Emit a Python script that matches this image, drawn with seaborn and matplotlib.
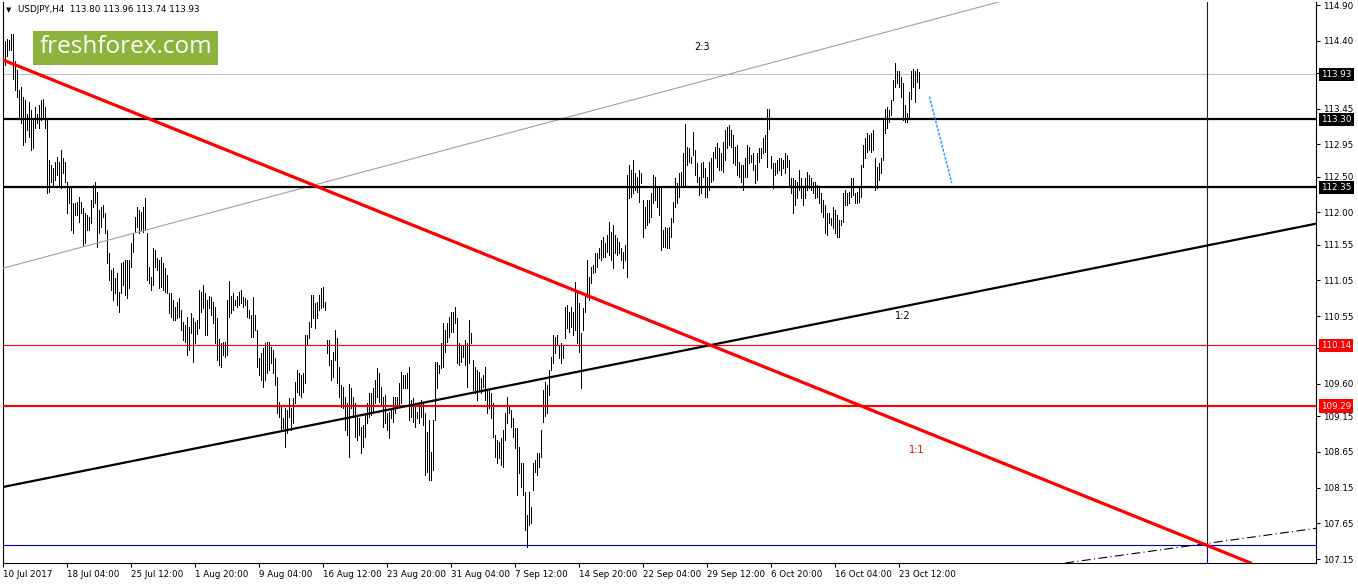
import matplotlib
matplotlib.use('agg')
import matplotlib.pyplot as plt
import matplotlib.transforms as mtransforms
from matplotlib.patches import Rectangle
import pandas as pd
import seaborn as sns

# H4 bars (high / low) left to right
highs = [
    114.27, 114.39, 114.43, 114.41, 114.50, 114.50, 114.11, 113.99, 113.71, 113.76,
    113.62, 113.57, 113.38, 113.55, 113.43, 113.32, 113.48, 113.38, 113.50, 113.57,
    113.59, 113.48, 113.32, 112.73, 112.66, 112.62, 112.71, 112.78, 112.71, 112.87,
    112.76, 112.71, 112.43, 112.34, 112.36, 112.13, 112.13, 112.15, 112.22, 112.15,
    112.06, 111.99, 111.96, 111.94, 112.17, 112.38, 112.43, 112.29, 112.03, 112.08,
    112.10, 111.99, 111.75, 111.43, 111.19, 111.22, 111.08, 111.15, 110.89, 111.29,
    111.31, 111.33, 111.33, 111.33, 111.57, 111.71, 111.94, 112.08, 112.03, 112.01,
    112.08, 112.20, 111.71, 111.24, 111.10, 111.50, 111.47, 111.36, 111.33, 111.38,
    111.29, 111.22, 111.12, 110.87, 110.87, 110.77, 110.68, 110.75, 110.80,
    110.64, 110.47, 110.42, 110.54, 110.40, 110.59, 110.52, 110.47, 110.49, 110.92,
    110.89, 110.98, 110.87, 110.77, 110.83, 110.82, 110.75, 110.68, 110.52, 110.23,
    110.17, 110.19, 110.19, 110.78, 111.04, 110.83, 110.87, 110.77, 110.83, 110.88,
    110.92, 110.81, 110.80, 110.77, 110.64, 110.56, 110.82, 110.56, 110.35, 109.96,
    110.03, 110.10, 110.17, 110.18, 110.18, 110.12, 110.08, 109.96, 109.70, 109.35,
    109.28, 109.12, 109.26, 109.24, 109.40, 109.26, 109.40, 109.63, 109.80, 109.75,
    109.73, 109.75, 110.29, 110.29, 110.47, 110.85, 110.85, 110.73, 110.75, 110.84,
    110.94, 110.96, 110.75, 110.22, 110.22, 109.94, 110.05, 110.36, 110.24, 109.84,
    109.59, 109.56, 109.42, 109.33, 109.60, 109.54, 109.42, 109.33, 109.14, 109.12,
    109.00, 109.03, 109.19, 109.33, 109.47, 109.47, 109.54, 109.66, 109.82, 109.75,
    109.56, 109.42, 109.45, 109.19, 109.21, 109.26, 109.42, 109.42, 109.42, 109.61,
    109.77, 109.73, 109.73, 109.75, 109.84, 109.38, 109.40, 109.33, 109.21, 109.35,
    109.38, 109.33, 109.19, 108.93, 109.10, 108.65, 109.10, 109.91, 109.91, 109.87,
    110.17, 110.45, 110.35, 110.45, 110.54, 110.61, 110.61, 110.68, 110.52, 110.17,
    110.14, 110.14, 110.21, 110.17, 110.49, 110.31, 109.94, 109.84, 109.80, 109.77,
    109.68, 109.73, 109.84, 109.52, 109.52, 109.47, 109.33, 108.89, 108.82, 108.79,
    108.84, 108.96, 109.19, 109.42, 109.28, 109.24, 109.12, 108.98, 108.98, 108.72,
    108.49, 108.49, 108.09, 107.77, 108.09, 107.88, 108.49, 108.54, 108.63, 108.63, 108.96,
    109.51, 109.63, 109.59, 109.80, 109.98, 110.29, 110.26, 110.29, 110.14, 110.17,
    110.14, 110.68, 110.70, 110.61, 110.68, 110.61, 111.03, 110.87, 110.73, 110.31,
    110.66, 110.84, 111.33, 111.10, 111.24, 111.26, 111.43, 111.43, 111.50, 111.61,
    111.66, 111.57, 111.68, 111.87, 111.73, 111.82, 111.68, 111.64, 111.59, 111.50,
    111.45, 111.54, 112.52, 112.66, 112.59, 112.73, 112.55, 112.50, 112.59, 112.55,
    112.17, 112.08, 112.17, 112.17, 112.27, 112.52, 112.50, 112.36, 112.34, 112.36,
    111.75, 111.80, 111.78, 111.80, 111.92, 112.15, 112.48, 112.41, 112.55, 112.57,
    112.83, 113.24, 112.92, 112.90, 112.78, 113.13, 112.87, 112.69, 112.50, 112.69,
    112.71, 112.62, 112.50, 112.71, 112.76, 112.85, 112.92, 112.97, 112.90, 112.83,
    112.99, 113.15, 113.20, 113.22,
    113.15, 113.08, 112.92, 112.94, 112.71, 112.66, 112.66, 112.76, 112.94, 112.92,
    112.80, 112.83, 112.66, 112.83, 112.90, 112.90, 113.04, 113.08, 113.44, 113.44,
    112.79, 112.69, 112.69, 112.73, 112.76, 112.76, 112.73, 112.83, 112.80, 112.73,
    112.48, 112.48, 112.45, 112.43, 112.59, 112.48, 112.36, 112.48, 112.57, 112.52,
    112.48, 112.43, 112.43, 112.38, 112.36, 112.27, 112.17, 112.10, 111.99, 111.99,
    111.92, 112.08, 112.03, 111.96, 111.89, 111.89, 112.27, 112.31, 112.27, 112.29,
    112.48, 112.48, 112.27, 112.29, 112.34, 112.66, 112.94, 113.04, 113.11, 113.08,
    113.11, 113.15, 112.76, 112.64, 112.69, 112.76, 113.29, 113.45, 113.48, 113.43,
    113.57, 113.85, 114.09, 113.97, 113.97, 113.90, 113.81, 113.50, 113.39, 113.69,
    113.97, 114.01, 113.97, 114.01, 113.96,
]
lows = [
    113.99, 114.06, 114.18, 114.27, 114.27, 113.87, 113.71, 113.62, 113.34, 113.25,
    112.94, 112.99, 113.15, 113.06, 112.87, 112.90, 113.18, 113.25, 113.18, 113.29,
    113.34, 113.18, 112.27, 112.29, 112.43, 112.36, 112.45, 112.52, 112.38, 112.34,
    112.55, 112.43, 111.99, 112.13, 111.75, 111.71, 111.96, 111.96, 111.87, 111.99,
    111.54, 111.57, 111.75, 111.75, 111.85, 112.08, 112.13, 111.52, 111.71, 111.80,
    111.94, 111.71, 111.29, 111.05, 110.91, 110.77, 110.87, 110.70, 110.61, 110.87,
    110.98, 110.84, 110.80, 110.94, 111.24, 111.45, 111.73, 111.80, 111.71, 111.75,
    111.73, 111.75, 111.05, 111.01, 110.91, 110.98, 111.24, 111.19, 110.94, 110.96,
    110.91, 110.89, 110.87, 110.59, 110.54, 110.49, 110.49, 110.52, 110.54,
    110.36, 110.22, 110.19, 110.01, 110.08, 110.31, 109.91, 110.17, 110.30, 110.38,
    110.61, 110.66, 110.29, 110.29, 110.66, 110.56, 110.45, 110.17, 109.94, 109.87,
    109.84, 110.01, 109.98, 110.01, 110.54, 110.59, 110.64, 110.70, 110.68, 110.70,
    110.73, 110.68, 110.70, 110.54, 110.52, 110.26, 110.26, 110.36, 109.84, 109.73,
    109.66, 109.56, 109.66, 109.75, 109.80, 109.89, 109.75, 109.59, 109.19, 109.14,
    108.96, 108.98, 108.72, 108.91, 109.14, 108.96, 109.05, 109.33, 109.49, 109.45,
    109.42, 109.49, 109.61, 110.15, 110.24, 110.40, 110.52, 110.38, 110.52, 110.64,
    110.66, 110.68, 110.64, 110.03, 109.87, 109.66, 109.70, 109.94, 109.61, 109.42,
    109.28, 109.26, 108.96, 108.89, 108.58, 109.26, 109.14, 108.86, 108.82, 108.89,
    108.63, 108.72, 108.86, 109.05, 109.14, 109.17, 109.21, 109.33, 109.42, 109.35,
    109.31, 109.00, 109.05, 108.96, 108.84, 109.12, 109.07, 109.19, 109.26, 109.31,
    109.33, 109.54, 109.54, 109.54, 109.10, 109.14, 109.07, 109.00, 109.12, 109.05,
    109.14, 109.03, 108.33, 108.37, 108.26, 108.26, 108.40, 109.10, 109.54, 109.75,
    109.82, 109.84, 110.05, 110.19, 110.26, 110.33, 110.33, 110.45, 109.89, 109.87,
    109.91, 109.98, 109.87, 109.56, 109.89, 110.17, 109.52, 109.47, 109.38, 109.52,
    109.47, 109.56, 109.38, 109.19, 109.26, 109.12, 108.86, 108.58, 108.49, 108.56,
    108.47, 108.44, 108.82, 109.05, 109.19, 109.00, 108.86, 108.70, 108.05, 108.35,
    108.16, 108.05, 107.56, 107.32, 107.63, 107.65, 108.12, 108.37, 108.33, 108.44, 108.58,
    109.07, 109.15, 109.20, 109.45, 109.79, 109.89, 110.03, 110.14, 109.96, 109.89,
    109.96, 110.24, 110.38, 110.33, 110.40, 110.29, 110.35, 110.17, 110.05, 109.54,
    110.35, 110.61, 110.82, 110.77, 111.01, 111.15, 111.17, 111.24, 111.36, 111.33,
    111.38, 111.38, 111.45, 111.40, 111.33, 111.22, 111.43, 111.40, 111.43, 111.33,
    111.22, 111.33, 111.10, 112.20, 112.22, 112.27, 112.31, 112.29, 112.15, 112.41,
    111.66, 111.78, 111.82, 111.87, 111.94, 112.13, 112.17, 112.08, 111.96, 111.47,
    111.52, 111.52, 111.50, 111.50, 111.66, 111.87, 112.08, 112.13, 112.22, 112.36,
    112.38, 112.36, 112.66, 112.71, 112.69, 112.80, 112.52, 112.43, 112.24, 112.27,
    112.50, 112.22, 112.22, 112.31, 112.43, 112.45, 112.76, 112.64, 112.59, 112.59,
    112.57, 112.73, 112.90, 112.94,
    112.92, 112.69, 112.66, 112.52, 112.50, 112.43, 112.31, 112.50, 112.50, 112.69,
    112.71, 112.59, 112.41, 112.45, 112.71, 112.76, 112.83, 112.85, 112.64, 113.17,
    112.62, 112.34, 112.52, 112.55, 112.59, 112.52, 112.62, 112.55, 112.64, 112.36,
    112.27, 111.99, 112.10, 112.20, 112.31, 112.20, 112.10, 112.20, 112.31, 112.34,
    112.31, 112.27, 112.20, 112.22, 112.13, 112.01, 111.94, 111.71, 111.68, 111.85,
    111.82, 111.78, 111.71, 111.66, 111.66, 111.82, 111.87, 112.10, 112.10, 112.13,
    112.22, 112.24, 112.13, 112.13, 112.15, 112.22, 112.64, 112.76, 112.85, 112.87,
    112.85, 112.87, 112.31, 112.34, 112.45, 112.55, 112.73, 113.11, 113.18, 113.27,
    113.36, 113.57, 113.76, 113.81, 113.76, 113.62, 113.29, 113.27, 113.27, 113.34,
    113.59, 113.76, 113.55, 113.83, 113.74,
]

# time axis labels (every 32 bars)
time_ticks = [0, 32, 64, 96, 128, 160, 192, 224, 256, 288, 320, 352, 384, 416, 448]
time_labels = ['10 Jul 2017', '18 Jul 04:00', '25 Jul 12:00', '1 Aug 20:00', '9 Aug 04:00',
               '16 Aug 12:00', '23 Aug 20:00', '31 Aug 04:00', '7 Sep 12:00', '14 Sep 20:00',
               '22 Sep 04:00', '29 Sep 12:00', '6 Oct 20:00', '16 Oct 04:00', '23 Oct 12:00']
price_ticks = [114.90, 114.40, 113.95, 113.45, 112.95, 112.50, 112.00, 111.55, 111.05,
               110.55, 110.10, 109.60, 109.15, 108.65, 108.15, 107.65, 107.15]
# scale labels that sit fully under a price tag
hidden_ticks = [113.95, 110.10]

# chart objects: trendline anchors (bar index, price)
red_x, red_y = [0, 430], [114.13, 109.28]
black_x, black_y = [0, 656], [108.16, 111.84]
grey_x, grey_y = [0, 496], [111.22, 114.93]
dashdot_x, dashdot_y = [532, 656], [107.10, 107.58]
arrow_x, arrow_y = [463, 474.2], [113.62, 112.41]
support_levels = [113.30, 112.35]
red_levels = [110.14, 109.29]
bid = 113.93
blue_level = 107.35
vline_bar = 601.8

sns.set_theme(style='white')
plt.rcParams['font.family'] = ['DejaVu Sans']

W, H = 1358, 584
fig = plt.figure(figsize=(W / 100, H / 100), dpi=100)
fig.patch.set_facecolor('white')
ax = fig.add_axes([3 / W, 21 / H, 1313 / W, 561 / H])
ax.set_facecolor('white')

bars = pd.DataFrame({'high': highs, 'low': lows})
bars['bar'] = range(len(bars))
ax.vlines(bars['bar'], bars['low'], bars['high'], color='black', lw=0.5,
          antialiased=False, zorder=3)

# horizontal levels
ax.axhline(bid, color='#c0c0c0', lw=0.8, zorder=2)
for lv in support_levels:
    ax.axhline(lv, color='black', lw=1.6, zorder=5)
ax.axhline(red_levels[0], color='red', lw=0.8, zorder=5)
ax.axhline(red_levels[1], color='red', lw=1.5, zorder=5)
ax.axhline(blue_level, color='#0000c8', lw=0.8, zorder=5)

# trendlines
ax.axline((grey_x[0], grey_y[0]), (grey_x[1], grey_y[1]), color='#a0a0a0', lw=0.8, zorder=4)
ax.axline((black_x[0], black_y[0]), (black_x[1], black_y[1]), color='black', lw=1.6, zorder=6)
ax.axline((red_x[0], red_y[0]), (red_x[1], red_y[1]), color='red', lw=2.3, zorder=7)
ax.axline((dashdot_x[0], dashdot_y[0]), (dashdot_x[1], dashdot_y[1]), color='black', lw=0.8,
          linestyle=(0, (8, 3, 1, 3)), zorder=6)
sns.lineplot(x=arrow_x, y=arrow_y, ax=ax, color='#1e90ff', lw=1.0,
             linestyle=(0, (2, 1)), zorder=6)

# vertical line
ax.vlines(vline_bar, blue_level, 115, color='#202020', lw=0.8, zorder=5)
ax.vlines(vline_bar, 107.0, blue_level, color='#0000c8', lw=0.8, zorder=5)

# ratio labels
ax.text(349.3, 114.31, '2:3', fontsize=7, ha='center', va='center', color='black')
ax.text(449.8, 110.55, '1:2', fontsize=7, ha='center', va='center', color='black')
ax.text(456.8, 108.68, '1:1', fontsize=7, ha='center', va='center', color='#e00000')

ax.set_xlim(-0.17, 656.3)
ax.set_ylim(107.096, 114.942)

# axes cosmetics
for side in ['left', 'right', 'bottom']:
    ax.spines[side].set_color('black')
    ax.spines[side].set_linewidth(0.8)
ax.spines['top'].set_visible(False)
ax.yaxis.tick_right()
ax.set_yticks(price_ticks)
ax.set_yticklabels(['' if p in hidden_ticks else f'{p:.2f}' for p in price_ticks])
ax.set_xticks(time_ticks)
ax.set_xticklabels(time_labels, ha='left')
ax.tick_params(axis='both', which='major', direction='out', length=3, width=0.8,
               color='black', labelsize=6.3, labelcolor='black', pad=2)
ax.tick_params(axis='y', right=True, left=False)
ax.tick_params(axis='x', bottom=True)
ax.grid(False)

# highlighted price labels on the right
trans = mtransforms.blended_transform_factory(ax.transAxes, ax.transData)
xlab = 1 + 5 / 1313
for val, bg in [(bid, 'black'), (support_levels[0], 'black'), (support_levels[1], 'black'),
                (red_levels[0], 'red'), (red_levels[1], 'red')]:
    ax.text(xlab, val, f'{val:.2f}', transform=trans, fontsize=6.3, color='white',
            ha='left', va='center', clip_on=False, zorder=10,
            bbox=dict(boxstyle='square,pad=0.25', fc=bg, ec='none'))

# header and logo
fig.text(9 / W, 1 - 10 / H, '\u25bc', fontsize=5, ha='center', va='center', color='black')
fig.text(18 / W, 1 - 10 / H, 'USDJPY,H4  113.80 113.96 113.74 113.93', fontsize=6.3,
         ha='left', va='center', color='black')
fig.patches.append(Rectangle((33 / W, 1 - 65 / H), 185 / W, 34 / H, transform=fig.transFigure,
                             fc='#8db33c', ec='none', zorder=8))
fig.text(125.5 / W, 1 - 47 / H, 'freshforex.com', fontsize=17.5, family='Open Sans',
         ha='center', va='center', color='white', zorder=9)

fig.savefig('out.png', dpi=100)
